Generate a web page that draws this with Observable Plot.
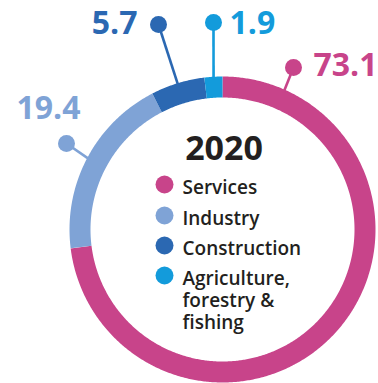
<!DOCTYPE html>
<html><head><meta charset="utf-8">
<script src="https://cdn.jsdelivr.net/npm/d3@7"></script>
<script src="https://cdn.jsdelivr.net/npm/@observablehq/plot@0.6"></script>
<style>body{margin:0;background:#fff}</style>
</head><body><div id="chart"></div>
<script>
// ---- data ----
const year = "2020";
const categories = ["Services", "Industry", "Construction", "Agriculture, forestry & fishing"];
const legendLabels = ["Services", "Industry", "Construction", "Agriculture,\nforestry &\nfishing"];
const values = [73.1, 19.4, 5.7, 1.9];
const valueLabels = ["73.1", "19.4", "5.7", "1.9"];
const colors = ["#c8448a", "#7fa3d6", "#2b68b2", "#139bdb"];

// ---- layout (pixels relative to the donut centre) ----
const W = 378, H = 383, CX = 222, CY = 229;
const R_OUT = 153, R_IN = 132;
const labelRingAngle = [24, null, null, null]; // degrees clockwise from top; null = slice middle
const labelDot = [[71, -162], [-156, -86], [-64, -205], [-9, -207]];
const labelText = [[91, -164, "start"], [-142, -121, "end"], [-85, -206, "end"], [7, -206, "start"]];
const legendY = [-45, -14, 16, 46];
const legendDotX = -58, legendTextX = -40;

// ---- derived ----
const pie = d3.pie().sort(null).value(d => d)(values);
const rMid = (R_OUT + R_IN) / 2;
const ringPts = [];
pie.forEach((p, i) => {
  const n = Math.max(2, Math.ceil((p.endAngle - p.startAngle) / (Math.PI / 360)) + 1);
  for (let k = 0; k < n; k++) {
    const a = p.startAngle + (p.endAngle - p.startAngle) * k / (n - 1);
    ringPts.push({cat: categories[i], x: rMid * Math.sin(a), y: -rMid * Math.cos(a)});
  }
});
const leaders = pie.map((p, i) => {
  const a = labelRingAngle[i] == null ? (p.startAngle + p.endAngle) / 2 : labelRingAngle[i] * Math.PI / 180;
  const r = R_OUT - 3;
  return {cat: categories[i], x1: labelDot[i][0], y1: labelDot[i][1], x2: r * Math.sin(a), y2: -r * Math.cos(a),
          tx: labelText[i][0], ty: labelText[i][1], anchor: labelText[i][2], label: valueLabels[i]};
});
const legend = categories.map((c, i) => ({cat: c, label: legendLabels[i], y: legendY[i]}));

const chart = Plot.plot({
  width: W, height: H,
  margin: 0,
  x: {domain: [-CX, W - CX], range: [0, W], axis: null},
  y: {domain: [-CY, H - CY], range: [0, H], axis: null},
  color: {domain: categories, range: colors},
  style: {fontFamily: "'Open Sans', sans-serif", background: "#fff"},
  marks: [
    Plot.line(ringPts, {x: "x", y: "y", z: "cat", stroke: "cat", strokeWidth: R_OUT - R_IN, strokeLinecap: "butt", strokeLinejoin: "round"}),
    Plot.link(leaders, {x1: "x1", y1: "y1", x2: "x2", y2: "y2", stroke: "cat", strokeWidth: 2.6}),
    Plot.dot(leaders, {x: "x1", y: "y1", fill: "cat", r: 8.5}),
    Plot.text(leaders.filter(d => d.anchor === "start"), {x: "tx", y: "ty", text: "label", fill: "cat", textAnchor: "start", fontSize: 32, fontWeight: 700}),
    Plot.text(leaders.filter(d => d.anchor === "end"), {x: "tx", y: "ty", text: "label", fill: "cat", textAnchor: "end", fontSize: 32, fontWeight: 700}),
    Plot.text([year], {x: () => 1.5, y: () => -80, text: d => d, fill: "#231f20", fontSize: 34, fontWeight: 700}),
    Plot.dot(legend, {x: () => legendDotX, y: "y", fill: "cat", r: 9}),
    Plot.text(legend, {x: () => legendTextX, y: d => d.y - 6.6, text: "label", textAnchor: "start", lineAnchor: "top", lineHeight: 1.16, fill: "#231f20", fontSize: 19, fontWeight: 600})
  ]
});
document.getElementById("chart").append(chart);
</script>
</body></html>
